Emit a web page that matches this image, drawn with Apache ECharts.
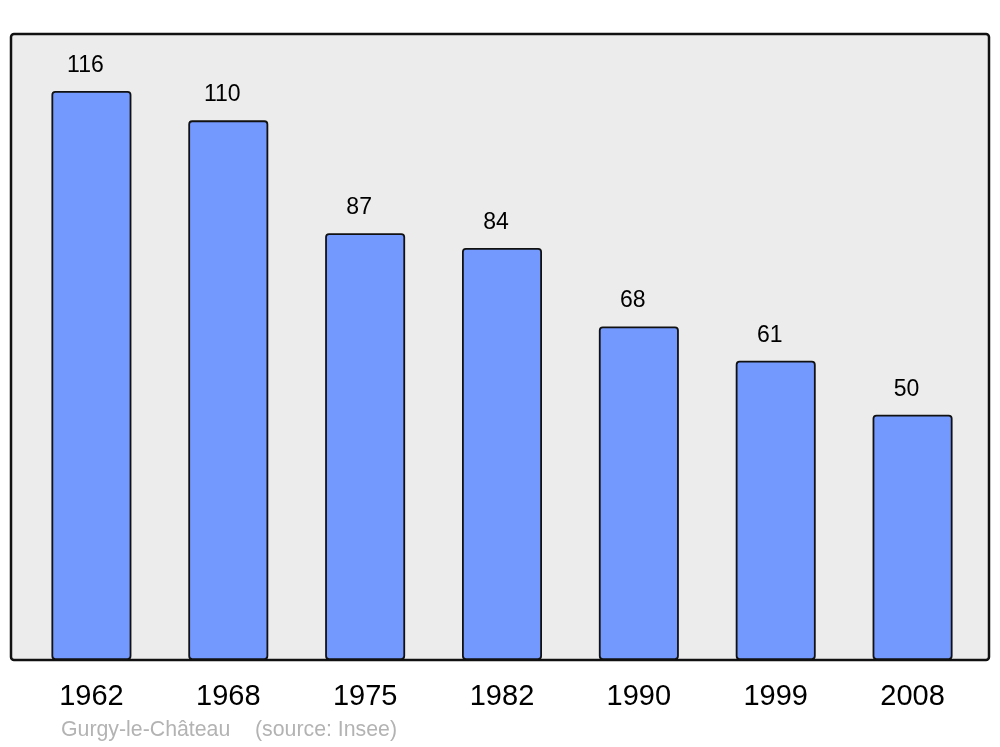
<!DOCTYPE html>
<html>
<head>
<meta charset="utf-8">
<script src="https://cdn.jsdelivr.net/npm/echarts@6/dist/echarts.min.js"></script>
<style>html,body{margin:0;padding:0;background:#fff}#c{width:1000px;height:747px}</style>
</head>
<body>
<div id="c"></div>
<script>
const years = ['1962','1968','1975','1982','1990','1999','2008'];
const population = [116,110,87,84,68,61,50];
const footerPlace = 'Gurgy-le-Château';
const footerSource = '(source: Insee)';

const chart = echarts.init(document.getElementById('c'), null, {renderer:'canvas'});
chart.setOption({
  animation:false,
  backgroundColor:'#ffffff',
  textStyle:{fontFamily:'Liberation Sans, Arial, sans-serif'},
  graphic:[
    {type:'rect', z:-10, shape:{x:11,y:34,width:978,height:626,r:3},
     style:{fill:'#ececec',stroke:'#111',lineWidth:2.5}},
    {type:'text', left:61, top:720,
     style:{text:footerPlace, fill:'#b3b3b3', fontSize:21.3, fontFamily:'Liberation Sans, Arial, sans-serif'}},
    {type:'text', left:255, top:720,
     style:{text:footerSource, fill:'#b3b3b3', fontSize:21.3, fontFamily:'Liberation Sans, Arial, sans-serif'}}
  ],
  grid:{left:23,right:19,top:34,bottom:87},
  xAxis:{type:'category',data:years,
    axisLine:{show:false},axisTick:{show:false},
    axisLabel:{color:'#000',fontSize:29,margin:22,fontFamily:'Liberation Sans, Arial, sans-serif'}},
  yAxis:{type:'value',min:0,max:127.6,show:false,splitLine:{show:false}},
  series:[{type:'bar',data:population,barWidth:80,
    itemStyle:{color:'#7399ff',borderColor:'#111',borderWidth:1.8,borderRadius:3},
    label:{show:true,position:'top',distance:14,offset:[-6,0],color:'#000',fontSize:23,
      fontFamily:'Liberation Sans, Arial, sans-serif'}}]
});
</script>
</body>
</html>
